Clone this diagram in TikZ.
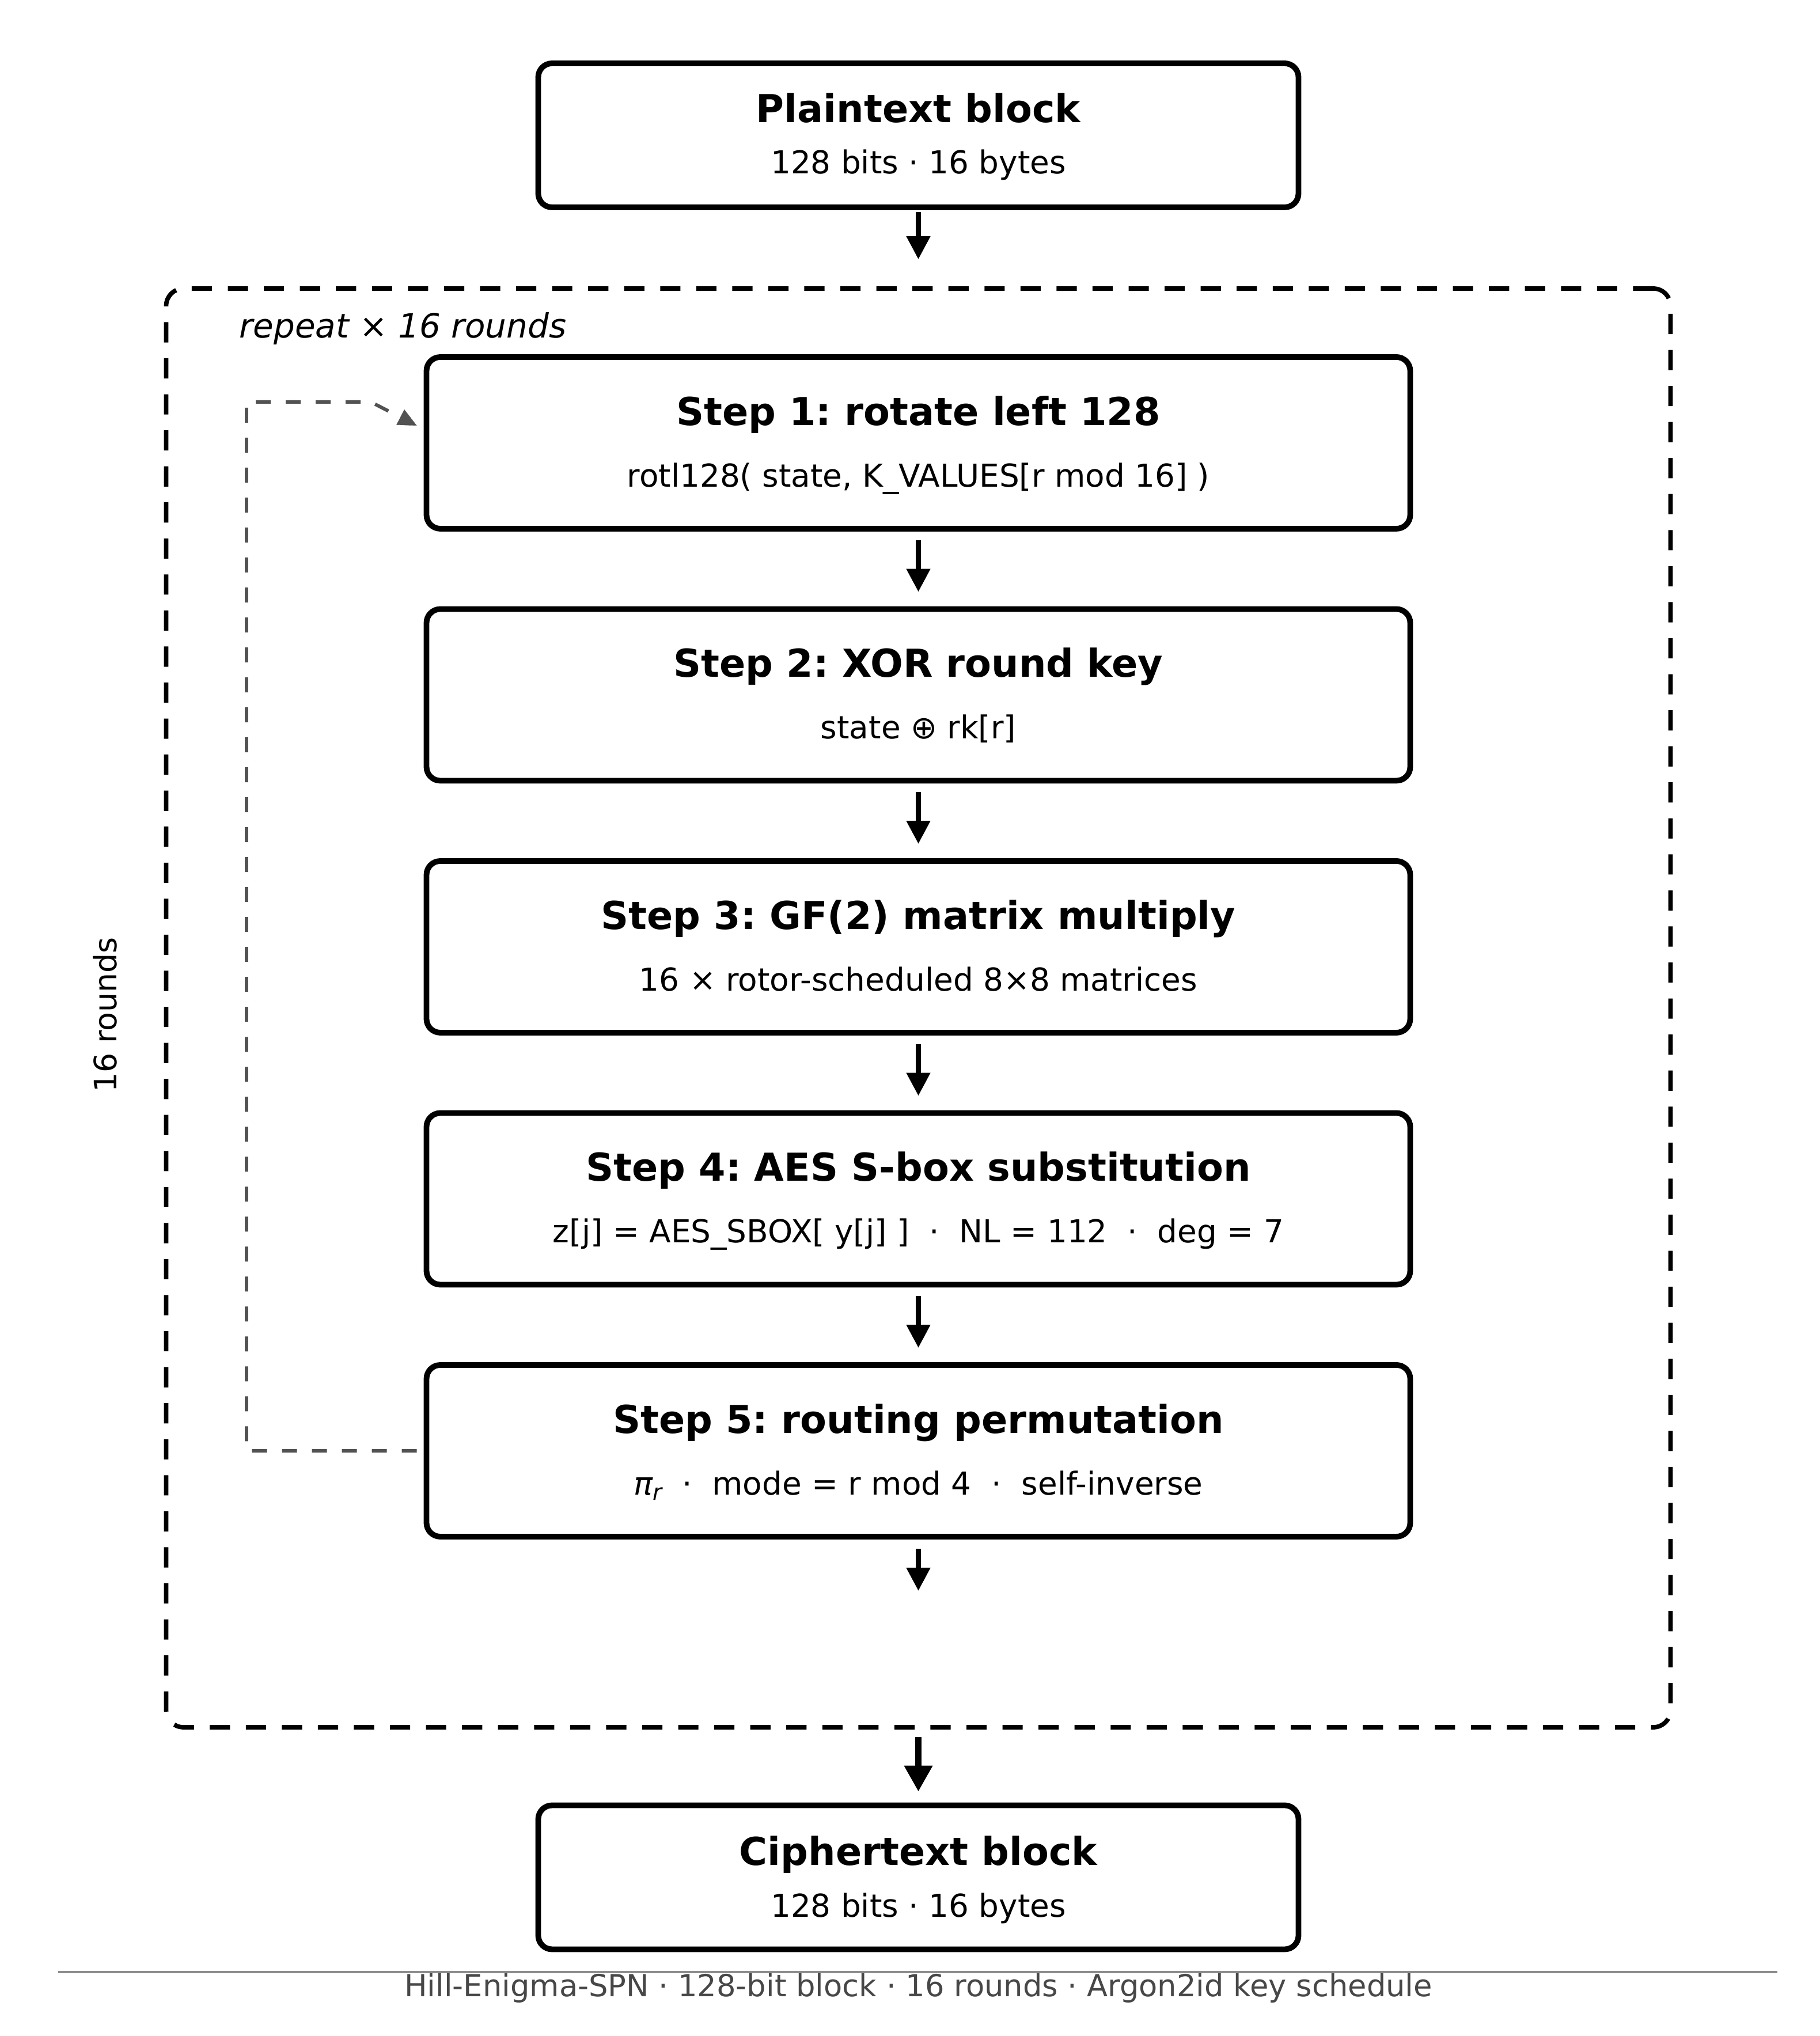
\documentclass[tikz,border=0pt]{standalone}
\usepackage{fontspec}
\setmainfont{DejaVu Sans}
\usepackage{tikz}
\usetikzlibrary{positioning}
\usetikzlibrary{arrows.meta}
\usetikzlibrary{calc}

\frenchspacing
\newcommand{\dotsep}{\hspace{0.636em}·\hspace{0.636em}}
\newcommand{\pir}{{\itshape π\raisebox{-0.3ex}{\fontsize{11}{13}\selectfont r}}}

\tikzset{
  block/.style={draw, line width=2.8pt, rounded corners=0.24cm, minimum width=13.2cm, minimum height=2.5cm, inner sep=0pt},
  stepbox/.style={block, minimum width=17.08cm, minimum height=2.98cm},
  ttl/.style={anchor=base, inner sep=0pt, font=\fontsize{19}{23}\selectfont\bfseries},
  note/.style={anchor=base, inner sep=0pt, font=\fontsize{15.6}{19}\selectfont},
  flow/.style={-{Triangle[length=0.4cm,width=0.4cm]}, line width=2.3pt},
  feedback/.style={-{Triangle[length=0.32cm,width=0.3cm,line width=0.1pt]}, line width=1.7pt, draw=black!68, dash pattern=on 7.4pt off 7.4pt},
}

\begin{document}
\begin{tikzpicture}
 	% page size
 	\useasboundingbox (0,0) rectangle (31.6,35.35);
 	\def\midx{15.945}

 	% input and output blocks
 	\node[block] (plain) at (\midx,33.0) {};
 	\node[ttl] (plaint) at ([yshift=0.22cm]plain.center) {Plaintext block};
 	\node[note] (plainn) at ([yshift=-0.67cm]plain.center) {128 bits · 16 bytes};

 	\node[block] (cipher) at (\midx,2.755) {};
 	\node[ttl] (ciphert) at ([yshift=0.21cm]cipher.center) {Ciphertext block};
 	\node[note] (ciphern) at ([yshift=-0.69cm]cipher.center) {128 bits · 16 bytes};

 	% the round loop
 	\node[draw, line width=2.2pt, dash pattern=on 10pt off 7.8pt, rounded corners=0.3cm,
 	      minimum width=26.12cm, minimum height=24.98cm] (rounds) at (\midx,17.85) {};
 	\node[anchor=base west, inner sep=0pt, font=\fontsize{16.5}{20}\selectfont\itshape] (repeat) at (4.15,29.48) {repeat × 16 rounds};
 	\node[rotate=90, inner sep=0pt, font=\fontsize{15.3}{18}\selectfont] (side) at (1.82,17.73) {16 rounds};

 	% the five steps
 	\foreach \i/\steptitle/\stepnote in {
 	    1/{Step 1: rotate left 128}/{rotl128( state, K\_VALUES[r mod 16] )},
 	    2/{Step 2: XOR round key}/{state ⊕ rk[r]},
 	    3/{Step 3: GF(2) matrix multiply}/{16 × rotor-scheduled 8×8 matrices},
 	    4/{Step 4: AES S-box substitution}/{z[j] = AES\_SBOX[ y[j] ]\dotsep NL = 112\dotsep deg = 7},
 	    5/{Step 5: routing permutation}/{\pir\dotsep mode = r mod 4\dotsep self-inverse}}
 	    {\node[stepbox] (s\i) at (\midx,{27.66-4.375*(\i-1)}) {};
 	     \node[ttl] (t\i) at ([yshift=0.305cm]s\i.center) {\steptitle};
 	     \node[note] (n\i) at ([yshift=-0.765cm]s\i.center) {\stepnote};}

 	% arrows
 	\draw[flow, shorten <=0.03cm, shorten >=0.47cm] (plain) -- (rounds);
 	\foreach \i [evaluate=\i as \j using int(\i+1)] in {1,...,4}
 	    {\draw[flow, shorten <=0.15cm, shorten >=0.25cm] (s\i) -- (s\j);}
 	\coordinate (s5out) at (\midx,7.73);
 	\draw[flow, shorten <=0.16cm] (s5) -- (s5out);
 	\draw[-{Triangle[length=0.45cm,width=0.47cm]}, line width=2.9pt, shorten <=0.13cm, shorten >=0.19cm] (rounds) -- (cipher);

 	% feedback from step 5 back to step 1
 	\coordinate (fbtop) at (4.28,28.37);
 	\coordinate (fbin) at ([xshift=-0.12cm,yshift=0.3cm]s1.west);
 	\draw[feedback] ([xshift=-0.12cm]s5.west) -| (fbtop) -- ++(2.16,0) -- (fbin);

 	% footer
 	\coordinate (fl) at (1.01,1.11);
 	\coordinate (fr) at (30.86,1.11);
 	\draw[black!45, line width=1pt] (fl) -- (fr);
 	\node[anchor=base, inner sep=0pt, text=black!72, font=\fontsize{15}{18}\selectfont] (foot) at (\midx,0.69)
 	    {Hill-Enigma-SPN · 128-bit block · 16 rounds · Argon2id key schedule};
\end{tikzpicture}
\end{document}
